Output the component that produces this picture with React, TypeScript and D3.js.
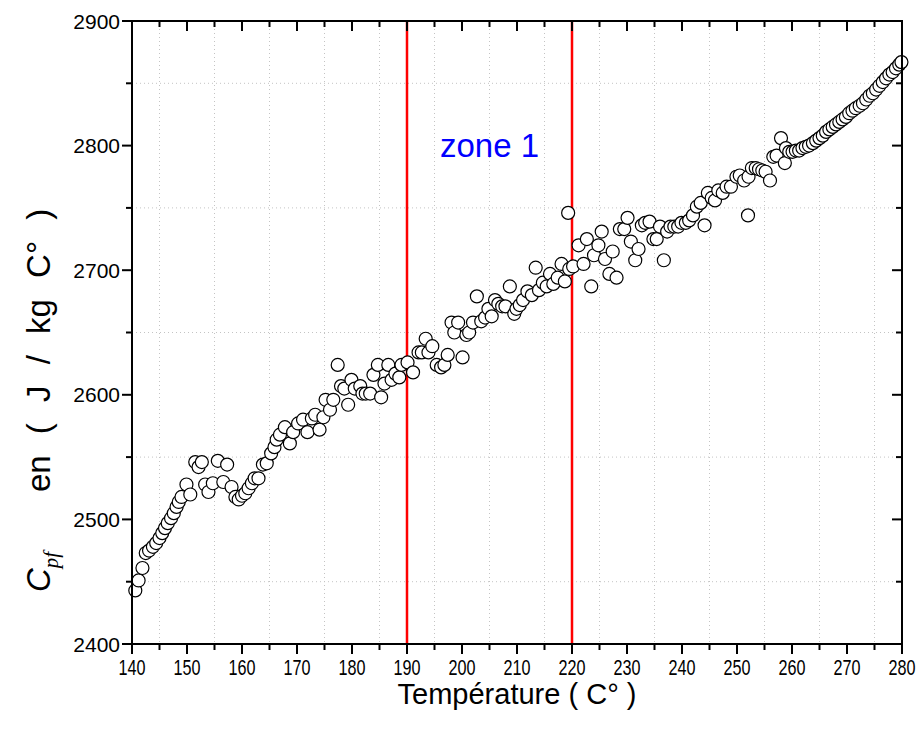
import React from "react";
import { select, scaleLinear, range } from "d3";

// temperature (°C) and Cpf (J/kg°C) readings
const temps = [
  140.6, 141.2, 141.9, 142.5, 143.1, 143.8, 144.4, 145.0, 145.5, 146.0,
  146.5, 147.1, 147.6, 148.1, 148.5, 149.0, 149.9, 150.6, 151.5, 152.1,
  152.7, 153.3, 153.9, 154.7, 155.6, 156.6, 157.3, 158.1, 158.8, 159.4,
  160.0, 160.6, 161.2, 161.8, 162.3, 163.0, 163.8, 164.5, 165.3, 165.9,
  166.3, 166.9, 167.8, 168.7, 169.3, 170.2, 171.1, 171.9, 172.7, 173.3,
  174.1, 174.8, 175.2, 176.0, 176.6, 177.4, 178.0, 178.6, 179.3, 179.9,
  180.5, 181.5, 181.9, 182.5, 183.3, 183.9, 184.7, 185.3, 185.9, 186.6,
  187.2, 187.9, 188.6, 189.0, 190.1, 191.1, 192.1, 192.7, 193.4, 193.9,
  194.6, 195.4, 196.2, 196.8, 197.4, 198.1, 198.6, 199.3, 200.1, 200.8,
  201.3, 202.0, 202.7, 203.5, 204.2, 204.8, 205.4, 206.0, 206.6, 207.3,
  207.9, 208.7, 209.5, 209.9, 210.5, 211.1, 211.9, 212.7, 213.4, 214.0,
  214.7, 215.4, 216.0, 216.6, 217.4, 218.1, 218.7, 219.3, 219.5, 220.2,
  221.2, 222.1, 222.7, 223.5, 224.0, 224.8, 225.4, 226.0, 226.8, 227.4,
  228.1, 228.7, 229.5, 230.1, 230.7, 231.5, 232.1, 232.7, 233.3, 234.1,
  234.8, 235.4, 236.0, 236.7, 237.3, 237.9, 238.6, 239.3, 239.9, 240.7,
  241.3, 242.0, 242.7, 243.4, 244.1, 244.7, 245.4, 246.0, 246.6, 247.4,
  248.1, 248.9, 249.9, 250.5, 251.3, 252.0, 252.1, 252.7, 253.4, 254.0,
  254.6, 255.2, 256.0, 256.6, 257.2, 258.0, 258.7, 258.9, 259.5, 260.1,
  260.7, 261.3, 261.9, 262.5, 263.1, 263.8, 264.4, 265.0, 265.6, 266.2,
  266.8, 267.4, 268.0, 268.6, 269.2, 269.8, 270.4, 271.0, 271.6, 272.3,
  272.9, 273.5, 274.1, 274.7, 275.3, 275.9, 276.5, 277.1, 277.7, 278.3,
  278.9, 279.5, 279.9
];

const cpf = [
  2443, 2451, 2461, 2473, 2475, 2478, 2481, 2485, 2489, 2493,
  2497, 2501, 2505, 2510, 2514, 2518, 2528, 2520, 2546, 2542,
  2546, 2528, 2522, 2529, 2547, 2530, 2544, 2526, 2518, 2516,
  2519, 2521, 2525, 2529, 2533, 2533, 2544, 2545, 2553, 2558,
  2564, 2568, 2574, 2561, 2570, 2577, 2580, 2570, 2581, 2584,
  2572, 2582, 2596, 2588, 2596, 2624, 2607, 2605, 2592, 2612,
  2605, 2607, 2601, 2601, 2601, 2616, 2624, 2598, 2609, 2624,
  2612, 2617, 2614, 2624, 2626, 2618, 2634, 2634, 2645, 2634,
  2639, 2624, 2622, 2624, 2632, 2658, 2650, 2658, 2630, 2648,
  2650, 2658, 2679, 2659, 2662, 2669, 2663, 2676, 2673, 2671,
  2671, 2687, 2665, 2669, 2672, 2676, 2683, 2680, 2702, 2684,
  2690, 2687, 2697, 2689, 2694, 2705, 2691, 2746, 2701, 2703,
  2720, 2705, 2725, 2687, 2712, 2720, 2731, 2709, 2697, 2715,
  2694, 2733, 2733, 2742, 2723, 2708, 2717, 2736, 2738, 2739,
  2725, 2725, 2735, 2708, 2731, 2735, 2735, 2735, 2738, 2738,
  2740, 2744, 2751, 2754, 2736, 2762, 2758, 2756, 2764, 2762,
  2767, 2767, 2775, 2776, 2772, 2744, 2775, 2782, 2782, 2781,
  2780, 2779, 2772, 2791, 2792, 2806, 2786, 2798, 2795, 2795,
  2796, 2796, 2798, 2799, 2800, 2802, 2804, 2806, 2808, 2811,
  2813, 2815, 2817, 2819, 2821, 2823, 2826, 2828, 2830, 2832,
  2834, 2837, 2840, 2842, 2845, 2848, 2851, 2854, 2857, 2859,
  2862, 2865, 2867
];

const zoneLimits = [190, 220];
const xTicks = range(140, 281, 10);
const yTicks = range(2400, 2901, 100);

const W = 924;
const H = 740;
const left = 132;
const right = 902;
const top = 21;
const bottom = 644;
const font = "'Liberation Sans', Arial, sans-serif";

export default function App() {
  const svgRef = React.useRef(null);

  React.useEffect(() => {
    const svg = select(svgRef.current);
    svg.selectAll("*").remove();

    const x = scaleLinear().domain([140, 280]).range([left, right]);
    const y = scaleLinear().domain([2400, 2900]).range([bottom, top]);

    const xMinor = range(145, 280, 10);
    const yMinor = range(2450, 2900, 100);

    // dotted grid on the minor positions
    const grid = svg.append("g").attr("stroke", "#c4c4c4").attr("stroke-width", 1).attr("stroke-dasharray", "1,3");
    grid.selectAll(".gx").data(xMinor).join("line")
      .attr("x1", d => x(d)).attr("x2", d => x(d)).attr("y1", top).attr("y2", bottom);
    grid.selectAll(".gy").data(yMinor).join("line")
      .attr("y1", d => y(d)).attr("y2", d => y(d)).attr("x1", left).attr("x2", right);

    // zone limits
    svg.append("g").selectAll("line").data(zoneLimits).join("line")
      .attr("x1", d => x(d)).attr("x2", d => x(d))
      .attr("y1", top).attr("y2", bottom)
      .attr("stroke", "#ff0000").attr("stroke-width", 2.5);

    // points
    svg.append("g").selectAll("circle").data(temps).join("circle")
      .attr("cx", d => x(d))
      .attr("cy", (d, i) => y(cpf[i]))
      .attr("r", 6.5)
      .attr("fill", "white")
      .attr("stroke", "black")
      .attr("stroke-width", 1.2);

    // ticks
    const ticks = svg.append("g").attr("stroke", "black").attr("stroke-width", 2);
    const maj = 10;
    const mnr = 6;
    xTicks.forEach(t => {
      ticks.append("line").attr("x1", x(t)).attr("x2", x(t)).attr("y1", bottom).attr("y2", bottom + maj);
      ticks.append("line").attr("x1", x(t)).attr("x2", x(t)).attr("y1", top).attr("y2", top + maj);
    });
    xMinor.forEach(t => {
      ticks.append("line").attr("x1", x(t)).attr("x2", x(t)).attr("y1", bottom).attr("y2", bottom + mnr);
      ticks.append("line").attr("x1", x(t)).attr("x2", x(t)).attr("y1", top).attr("y2", top + mnr);
    });
    yTicks.forEach(t => {
      ticks.append("line").attr("y1", y(t)).attr("y2", y(t)).attr("x1", left).attr("x2", left - maj);
      ticks.append("line").attr("y1", y(t)).attr("y2", y(t)).attr("x1", right).attr("x2", right - maj);
    });
    yMinor.forEach(t => {
      ticks.append("line").attr("y1", y(t)).attr("y2", y(t)).attr("x1", left).attr("x2", left - mnr);
      ticks.append("line").attr("y1", y(t)).attr("y2", y(t)).attr("x1", right).attr("x2", right - mnr);
    });

    // frame
    svg.append("rect")
      .attr("x", left).attr("y", top)
      .attr("width", right - left).attr("height", bottom - top)
      .attr("fill", "none").attr("stroke", "black").attr("stroke-width", 2);

    // tick labels
    svg.append("g").selectAll("text").data(xTicks).join("text")
      .attr("x", d => x(d)).attr("y", bottom + 31)
      .attr("text-anchor", "middle")
      .attr("font-family", font).attr("font-size", 22)
      .attr("textLength", 27).attr("lengthAdjust", "spacingAndGlyphs")
      .text(d => d);
    svg.append("g").selectAll("text").data(yTicks).join("text")
      .attr("x", left - 12).attr("y", d => y(d) + 7.5)
      .attr("text-anchor", "end")
      .attr("font-family", font).attr("font-size", 21)
      .text(d => d);

    // axis titles
    svg.append("text")
      .attr("x", 517).attr("y", 704)
      .attr("text-anchor", "middle")
      .attr("font-family", font).attr("font-size", 29)
      .attr("textLength", 239).attr("lengthAdjust", "spacingAndGlyphs")
      .text("Température ( C° )");

    const yt = svg.append("text")
      .attr("transform", "translate(50,592) rotate(-90)")
      .attr("font-family", font).attr("font-size", 33);
    yt.append("tspan").attr("font-style", "italic").text("C");
    yt.append("tspan").attr("font-style", "italic").attr("font-family", "'Liberation Serif', serif")
      .attr("font-size", 21).attr("dy", 8).text("pf");
    svg.append("text")
      .attr("transform", "translate(50,492) rotate(-90)")
      .attr("font-family", font).attr("font-size", 33)
      .style("word-spacing", "12px")
      .text("en ( J / kg C° )");

    // annotation
    svg.append("text")
      .attr("x", x(205)).attr("y", 157)
      .attr("text-anchor", "middle")
      .attr("font-family", font).attr("font-size", 33)
      .attr("fill", "#0000ff")
      .text("zone 1");
  }, []);

  return (
    <div style={{ position: "absolute", left: 0, top: 0 }}>
      <svg ref={svgRef} width={W} height={H} style={{ display: "block", background: "white" }} />
    </div>
  );
}
